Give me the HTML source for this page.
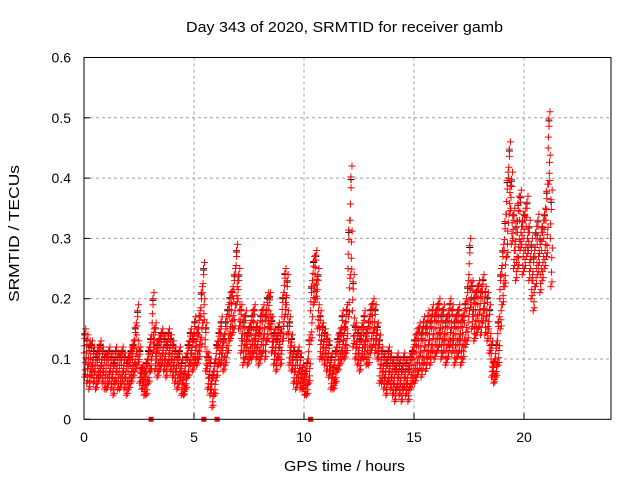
<!DOCTYPE html>
<html><head><meta charset="utf-8"><style>
body{margin:0;background:#fff;}
svg{display:block;font-family:"Liberation Sans",sans-serif;}
</style></head><body>
<svg id="chart" width="640" height="480" viewBox="0 0 640 480">
<rect width="640" height="480" fill="#fff"/>
<text x="186" y="32" font-size="15" textLength="317" lengthAdjust="spacingAndGlyphs">Day 343 of 2020, SRMTID for receiver gamb</text>
<text transform="translate(19,302) rotate(-90)" font-size="15" textLength="137" lengthAdjust="spacingAndGlyphs">SRMTID / TECUs</text>
<text x="284" y="471" font-size="15" textLength="121" lengthAdjust="spacingAndGlyphs">GPS time / hours</text>
<g id="grid"></g><g id="ticks"></g><g id="marks"></g>
<rect x="84" y="57.5" width="527" height="361.8" fill="none" stroke="#000" stroke-width="1"/>
</svg>
<script>
const xTicks=[0,5,10,15,20];
const yTicks=[0,0.1,0.2,0.3,0.4,0.5,0.6];
const yTickLabels=["0","0.1","0.2","0.3","0.4","0.5","0.6"];
const tStart=0, tStep=0.1;
const midValues=[
.11,.10,.09,.10,.09,.08,.09,.10,.09,.08,
.08,.09,.08,.07,.09,.08,.08,.09,.08,.07,
.08,.09,.10,.12,.14,.09,.07,.06,.07,.09,
.11,.16,.12,.10,.11,.12,.11,.10,.12,.11,
.10,.09,.08,.09,.07,.06,.08,.10,.12,.11,
.13,.12,.14,.17,.21,.12,.08,.07,.05,.07,
.10,.12,.13,.11,.13,.15,.17,.18,.20,.24,
.20,.15,.13,.14,.12,.13,.14,.15,.13,.12,
.14,.15,.14,.17,.18,.14,.12,.11,.13,.12,
.17,.21,.19,.13,.11,.09,.08,.09,.08,.07,
.06,.07,.10,.18,.23,.24,.20,.14,.13,.12,
.11,.10,.08,.07,.09,.11,.12,.14,.13,.15,
.25,.33,.18,.13,.12,.11,.13,.14,.12,.13,
.15,.16,.15,.13,.10,.09,.08,.07,.09,.08,
.07,.06,.08,.07,.06,.08,.07,.06,.08,.09,
.10,.11,.12,.11,.13,.12,.14,.13,.15,.14,
.15,.16,.14,.15,.13,.14,.16,.15,.13,.14,
.15,.13,.14,.16,.18,.24,.19,.17,.18,.19,
.18,.20,.18,.17,.15,.10,.08,.10,.13,.20,
.24,.28,.34,.40,.35,.30,.28,.31,.33,.29,
.30,.32,.28,.25,.23,.27,.29,.26,.28,.30,
.33,.45,.30];
const spreadValues=[
.04,.04,.04,.03,.03,.03,.03,.03,.03,.03,
.03,.03,.03,.03,.03,.03,.03,.03,.03,.03,
.03,.03,.03,.04,.05,.03,.02,.02,.03,.03,
.03,.05,.04,.03,.03,.03,.03,.03,.03,.03,
.03,.03,.03,.03,.03,.02,.03,.03,.03,.03,
.04,.03,.04,.05,.05,.04,.03,.03,.03,.03,
.03,.03,.04,.03,.04,.04,.04,.04,.05,.05,
.05,.04,.04,.04,.03,.03,.04,.04,.03,.03,
.04,.04,.04,.04,.03,.03,.03,.03,.03,.03,
.04,.04,.05,.04,.03,.03,.03,.03,.03,.02,
.02,.03,.04,.05,.04,.04,.05,.04,.03,.03,
.03,.03,.03,.02,.03,.03,.03,.04,.03,.04,
.08,.09,.06,.03,.03,.03,.03,.04,.03,.04,
.04,.04,.04,.03,.04,.03,.03,.03,.03,.03,
.03,.03,.03,.03,.03,.03,.03,.03,.03,.03,
.04,.04,.04,.04,.04,.04,.04,.04,.04,.04,
.04,.04,.04,.04,.04,.04,.04,.04,.04,.04,
.04,.04,.04,.04,.05,.06,.04,.04,.04,.04,
.04,.04,.04,.04,.04,.03,.02,.03,.04,.05,
.05,.06,.07,.06,.06,.05,.05,.06,.05,.05,
.05,.05,.05,.05,.05,.05,.05,.05,.05,.05,
.06,.06,.08];
const zeroTimes=[3.05,5.45,6.05,10.3];
const redPattern=[[0,0],[0.02,-1],[0.04,0.6],[0.06,-0.4],[0.08,1],[0.01,0.3],[0.05,-0.7],[0.09,-0.2],[0.03,0.8],[0.07,-0.9]];
const blackPattern=[[0.035,0.75]];

const NS="http://www.w3.org/2000/svg";
const X=t=>84+22*t;
const Y=v=>419.3-603*v;
function mk(tag,attrs,parent){const e=document.createElementNS(NS,tag);for(const k in attrs)e.setAttribute(k,attrs[k]);parent.appendChild(e);return e;}
const grid=document.getElementById('grid'),ticks=document.getElementById('ticks'),marks=document.getElementById('marks');
xTicks.forEach(t=>{
  if(t>0){const g=mk('line',{x1:X(t),x2:X(t),y1:57.5,y2:419.3,stroke:'#a0a0a0','stroke-dasharray':'3,3'},grid);
  
  }
  mk('line',{x1:X(t),x2:X(t),y1:419.3,y2:413,stroke:'#000'},ticks);
  const lb=mk('text',{x:X(t),y:442,'font-size':14,'text-anchor':'middle'},ticks);lb.textContent=t;
  
  
});
yTicks.forEach((v,i)=>{
  if(v>0&&v<0.6){const g=mk('line',{x1:84,x2:611,y1:Y(v),y2:Y(v),stroke:'#a0a0a0','stroke-dasharray':'3,3'},grid);
  
  }
  mk('line',{x1:84,x2:90,y1:Y(v),y2:Y(v),stroke:'#000'},ticks);
  const lb=mk('text',{x:71,y:Y(v)+5,'font-size':14,'text-anchor':'end'},ticks);lb.textContent=yTickLabels[i];
  
  
});
function plus(x,y){return `M${x-3.5},${y}h7M${x},${y-3.5}v7`;}
let dB='',dR='';
midValues.forEach((m,i)=>{
  const t=tStart+i*tStep,s=spreadValues[i];
  blackPattern.forEach(p=>{dB+=plus(X(t+p[0]),Y(m+s*p[1]));});
  redPattern.forEach(p=>{dR+=plus(X(t+p[0]),Y(m+s*p[1]));});
});
const pb=mk('path',{d:dB,stroke:'#000',fill:'none','stroke-width':1},marks);


const pr=mk('path',{d:dR,stroke:'#f00',fill:'none','stroke-width':1},marks);


zeroTimes.forEach(t=>{
  const r=mk('rect',{x:X(t)-2.5,y:Y(0)-2.5,width:5,height:5,fill:'#f00'},marks);
  
  
});
</script>
</body></html>
